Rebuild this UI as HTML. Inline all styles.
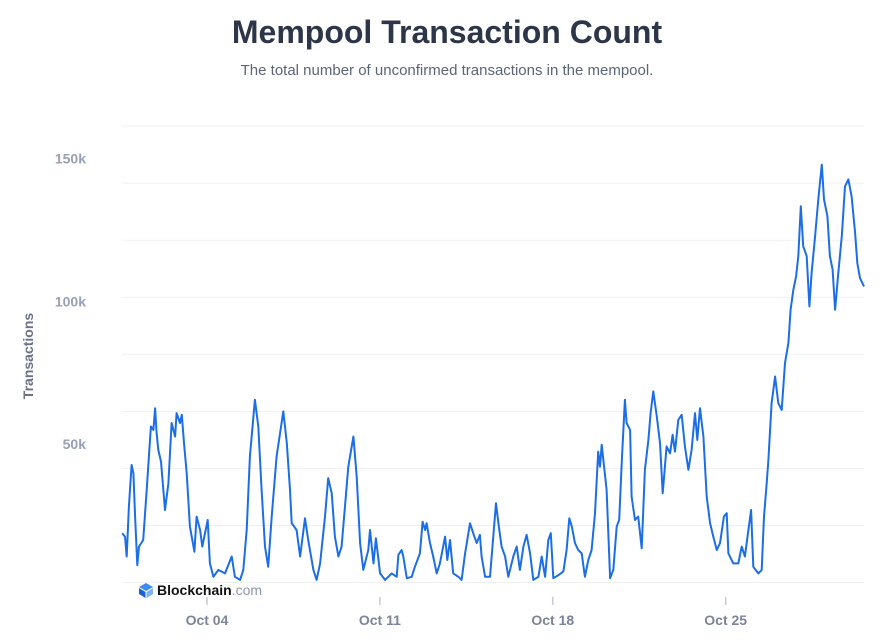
<!DOCTYPE html>
<html><head><meta charset="utf-8"><style>
body{margin:0;background:#fff;width:891px;height:635px;overflow:hidden;font-family:"Liberation Sans",sans-serif}
</style></head><body>
<svg id="chart" width="891" height="635" xmlns="http://www.w3.org/2000/svg">
<text x="447" y="43" text-anchor="middle" font-size="32" font-weight="bold" fill="#2d3648">Mempool Transaction Count</text>
<text x="447" y="75" text-anchor="middle" font-size="15" fill="#5b6478">The total number of unconfirmed transactions in the mempool.</text>
<text transform="translate(33,356) rotate(-90)" text-anchor="middle" font-size="14" font-weight="bold" fill="#6b7288">Transactions</text>
<g id="grid"></g>
<g id="yticks"></g>
<g id="xticks"></g>
<path id="line" fill="none" stroke="#1b6de8" stroke-width="2" stroke-linejoin="round"/>
<g>
<path d="M146 583 L153 587 L146 591 L139 587Z" fill="#3d8cf0"/>
<path d="M139 588 L145.5 592 L145.5 598 L139 594Z" fill="#1d5fd6"/>
<path d="M153 588 L146.5 592 L146.5 598 L153 594Z" fill="#7ab4f7"/>
<text x="157" y="595" font-size="14" font-weight="bold" fill="#111">Blockchain<tspan fill="#8f96a8" font-weight="normal">.com</tspan></text>
</g>
</svg>
<script>
const days=[0.01,0.12,0.19,0.28,0.39,0.46,0.53,0.62,0.69,0.86,1.00,1.17,1.27,1.34,1.40,1.47,1.58,1.74,1.88,2.01,2.15,2.21,2.35,2.42,2.51,2.62,2.75,2.93,3.02,3.16,3.25,3.47,3.56,3.70,3.90,4.17,4.44,4.57,4.78,4.91,5.05,5.18,5.38,5.52,5.65,5.79,5.92,6.06,6.26,6.53,6.67,6.80,6.87,7.07,7.21,7.41,7.54,7.75,7.88,8.02,8.22,8.35,8.49,8.62,8.76,8.89,9.16,9.37,9.50,9.64,9.77,9.97,10.04,10.18,
10.28,10.45,10.65,10.92,11.12,11.19,11.32,11.39,11.53,11.73,11.86,12.06,12.17,12.27,12.33,12.47,12.60,12.74,12.87,13.08,13.17,13.28,13.41,13.62,13.75,13.89,14.09,14.22,14.36,14.49,14.56,14.70,14.90,15.14,15.24,15.37,15.51,15.64,15.84,15.98,16.11,16.25,16.38,16.52,16.65,16.86,16.99,17.13,17.26,17.36,17.46,17.67,17.87,18.00,18.11,18.21,18.34,18.47,18.61,18.74,18.88,19.01,19.15,19.28,19.35,19.42,19.62,19.76,19.89,20.03,20.13,20.23,20.36,20.43,20.57,
20.63,20.77,20.90,21.04,21.17,21.31,21.40,21.51,21.65,21.78,21.89,22.05,22.19,22.29,22.39,22.52,22.66,22.79,22.93,23.06,23.20,23.29,23.40,23.54,23.67,23.81,23.94,24.08,24.21,24.37,24.48,24.55,24.75,24.95,25.09,25.22,25.36,25.47,25.56,25.76,25.90,25.99,26.10,26.17,26.30,26.44,26.57,26.71,26.84,26.98,27.07,27.18,27.29,27.38,27.48,27.58,27.72,27.83,27.92,28.06,28.19,28.33,28.42,28.56,28.66,28.77,28.87,29.00,29.14,29.27,29.41,29.54,29.68,29.77,29.88,30.04];
const counts=[17.3,16.1,9.1,26.6,41.2,38.3,23.1,6.1,12.6,14.9,32.5,54.7,53.5,61.1,52.4,46.5,42.4,25.4,34.8,55.9,51.2,59.4,55.9,58.8,48.9,38.3,19.6,10.8,23.1,18.4,12.6,21.9,6.7,2.0,4.4,3.2,9.1,2.0,0.9,4.4,18.4,44.2,64.1,54.7,32.5,12.6,5.5,23.1,44.2,60.0,48.9,32.5,20.8,18.4,9.1,22.5,14.9,4.4,0.9,6.7,23.1,36.6,31.3,16.1,9.1,12.6,40.6,51.2,37.1,13.8,4.4,11.4,18.4,6.7,
15.5,3.2,0.9,3.2,2.0,9.7,11.4,9.1,1.5,2.0,5.5,10.2,21.3,18.4,20.8,13.8,9.1,3.2,6.7,16.1,7.9,14.9,3.2,2.0,0.9,10.2,20.8,17.3,13.8,16.7,9.1,2.0,2.0,27.8,20.8,12.6,9.1,2.0,9.1,12.6,4.4,12.6,16.7,10.2,0.9,2.0,9.1,2.0,14.9,17.3,1.5,2.6,3.9,11.4,22.5,19.6,13.8,11.4,10.2,2.0,7.9,11.4,24.3,45.9,40.6,48.3,32.5,1.5,4.4,19.6,22.0,41.8,64.1,55.9,53.5,
30.1,21.9,23.1,12.0,39.5,50.0,59.4,67.0,58.2,48.9,31.3,47.7,45.3,51.8,45.9,57.0,58.8,47.7,39.5,46.5,59.4,50.0,61.1,51.2,30.1,20.8,16.1,11.4,13.8,23.1,24.3,10.2,6.7,6.7,12.6,9.1,18.4,25.4,5.5,3.2,4.4,23.1,34.8,43.0,62.9,72.2,62.9,60.5,76.9,84.0,95.6,102.7,107.3,114.4,131.9,117.9,114.4,96.8,108.5,121.4,134.3,146.5,134.3,128.4,114.4,109.7,95.6,108.5,121.4,138.9,141.3,135.4,122.6,112.0,106.7,103.8];
const gridValues=[0,20,40,60,80,100,120,140,160];
const yTickValues=[50,100,150];
const yTickLabels=["50k","100k","150k"];
const xTickDays=[3.44,10.44,17.44,24.44];
const xTickLabels=["Oct 04","Oct 11","Oct 18","Oct 25"];
const NS="http://www.w3.org/2000/svg";
function xs(d){return 122+d*(742/30.04);}
function ys(v){return 582.5-v*2.8525;}
function mk(tag,attrs,parent){const e=document.createElementNS(NS,tag);for(const k in attrs)e.setAttribute(k,attrs[k]);parent.appendChild(e);return e;}
const grid=document.getElementById('grid');
gridValues.forEach(v=>{const l=mk('line',{x1:122,x2:864,y1:ys(v),y2:ys(v),stroke:'#eef0f4','stroke-width':1},grid);

});
const yt=document.getElementById('yticks');
yTickValues.forEach((v,i)=>{const t=mk('text',{x:86,y:ys(v)+9,'text-anchor':'end','font-size':14,'font-weight':'bold',fill:'#9aa0b5'},yt);t.textContent=yTickLabels[i];

});
const xt=document.getElementById('xticks');
xTickDays.forEach((d,i)=>{const l=mk('line',{x1:xs(d),x2:xs(d),y1:597,y2:605,stroke:'#c5c9d4','stroke-width':1.5},xt);


const t=mk('text',{x:xs(d),y:625,'text-anchor':'middle','font-size':14,'font-weight':'bold',fill:'#7d8499'},xt);t.textContent=xTickLabels[i];

});
document.getElementById('line').setAttribute('d',days.map((d,i)=>(i?'L':'M')+xs(d).toFixed(1)+' '+ys(counts[i]).toFixed(1)).join(''));
</script>
</body></html>
